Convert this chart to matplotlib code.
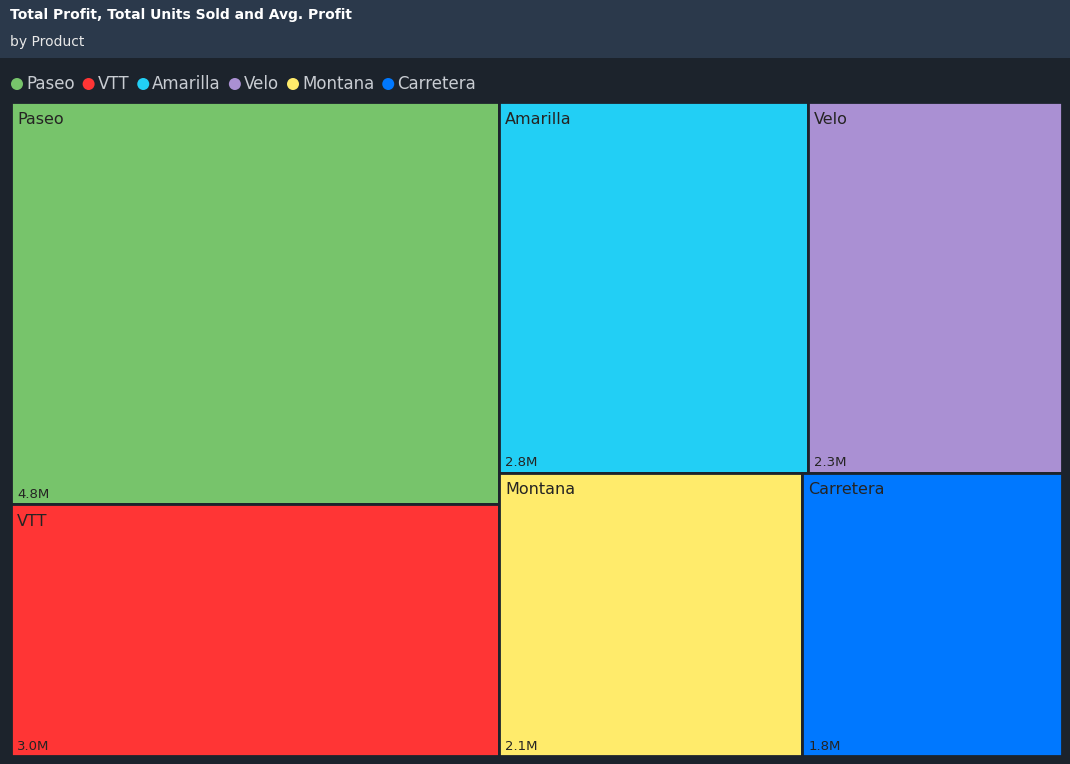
import matplotlib
matplotlib.use("Agg")
import matplotlib.pyplot as plt
from matplotlib.patches import Rectangle, Circle

products = ["Paseo", "VTT", "Amarilla", "Velo", "Montana", "Carretera"]
profit_m = [4.8, 3.0, 2.8, 2.3, 2.1, 1.8]
colors = ["#77c46b", "#ff3535", "#22cff5", "#aa90d3", "#ffeb6b", "#0078ff"]


def worst(row, side):
    s = sum(row)
    return max(max(side * side * r / (s * s), s * s / (side * side * r)) for r in row)


def squarify(areas, x, y, w, h):
    rects = []
    areas = list(areas)
    while areas:
        side = min(w, h)
        row = [areas.pop(0)]
        while areas and worst(row + [areas[0]], side) <= worst(row, side):
            row.append(areas.pop(0))
        s = sum(row)
        if w >= h:  # column on the left
            cw = s / h
            yy = y
            for a in row:
                rects.append((x, yy, cw, a / cw))
                yy += a / cw
            x += cw
            w -= cw
        else:  # row on top
            rh = s / w
            xx = x
            for a in row:
                rects.append((xx, y, a / rh, rh))
                xx += a / rh
            y += rh
            h -= rh
    return rects


W, H = 1070, 764
fig = plt.figure(figsize=(W / 100, H / 100), dpi=100)
fig.patch.set_facecolor("#1c232c")
ax = fig.add_axes([0, 0, 1, 1])
ax.set_xlim(0, W)
ax.set_ylim(H, 0)
ax.axis("off")

ax.add_patch(Rectangle((0, 0), W, 58, facecolor="#2b394b", edgecolor="none"))
ax.text(10, 15, "Total Profit, Total Units Sold and Avg. Profit", color="white",
        fontsize=10, fontweight="bold", va="center")
ax.text(10, 42, "by Product", color="#e8e8e8", fontsize=10, va="center")

# legend
fig.canvas.draw()
r = fig.canvas.get_renderer()
lx = 11
for p, c in zip(products, colors):
    ax.add_patch(Circle((lx + 6, 84), 6, facecolor=c, edgecolor="none"))
    t = ax.text(lx + 15, 84, p, color="#c8ccd2", fontsize=12, va="center")
    lx += 15 + t.get_window_extent(r).width + 8

x0, y0, x1, y1 = 11, 102, 1062, 756
total = sum(profit_m)
scale = (x1 - x0) * (y1 - y0) / total
rects = squarify([v * scale for v in profit_m], x0, y0, x1 - x0, y1 - y0)
for (rx, ry, rw, rh), p, v, c in zip(rects, products, profit_m, colors):
    ax.add_patch(Rectangle((rx, ry), rw, rh, facecolor=c, edgecolor="#1c232c", linewidth=2))
    ax.text(rx + 6, ry + 17, p, fontsize=11.5, color="#252423", va="center")
    ax.text(rx + 6, ry + rh - 10, f"{v:.1f}M", fontsize=9.5, color="#252423", va="center")

fig.savefig("out.png", dpi=100, facecolor=fig.get_facecolor())
